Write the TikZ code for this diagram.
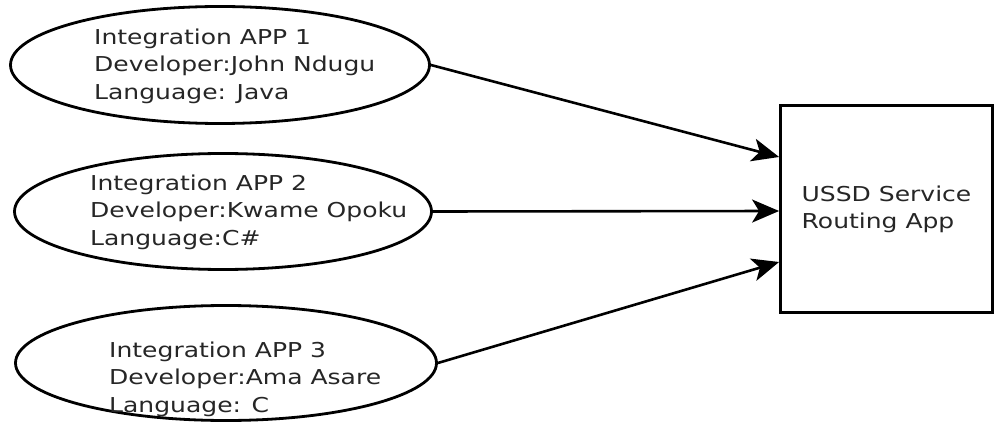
\documentclass[tikz,border=0pt]{standalone}
\usepackage{fontspec}
\setmainfont{DejaVu Sans}[FakeStretch=1.22]
\usetikzlibrary{shapes.geometric,arrows.meta,calc}
\definecolor{txt}{HTML}{262626}
\begin{document}
\begin{tikzpicture}[x=1pt,y=-1pt,
  appell/.style={draw=black,line width=2.8pt,ellipse,inner sep=0pt},
  apptext/.style={anchor=west,align=left,text=txt,inner sep=0pt,font=\fontsize{20.5}{27.5}\selectfont},
  routebox/.style={draw=black,line width=2.8pt,rectangle,inner sep=0pt,minimum width=212pt,minimum height=207pt,align=left,text=txt,font=\fontsize{20.5}{27}\selectfont},
  flow/.style={line width=2.6pt,-{Stealth[length=27pt,width=23pt,inset=7pt]}}]
\path[use as bounding box,fill=white] (0,0) rectangle (995,422);
\node[appell,minimum width=419pt,minimum height=117pt] (e1) at (220,65) {};
\node[appell,minimum width=417pt,minimum height=116pt] (e2) at (223,211.5) {};
\node[appell,minimum width=421pt,minimum height=115pt] (e3) at (226,363) {};
\node[apptext] (t1) at (94,66) {Integration APP 1\\Developer:John Ndugu\\Language: Java};
\node[apptext] (t2) at (90,212) {Integration APP 2\\Developer:Kwame Opoku\\Language:C\#};
\node[apptext] (t3) at (109,379) {Integration APP 3\\Developer:Ama Asare\\Language: C};
\node[routebox] (b) at (886.5,209) {USSD Service\\Routing App};
\coordinate (b1) at ($(b.west)+(0,-52)$);
\coordinate (b2) at ($(b.west)+(0,2)$);
\coordinate (b3) at ($(b.west)+(0,53)$);
\draw[flow] (e1.east) -- (b1);
\draw[flow] (e2.east) -- (b2);
\draw[flow] (e3.east) -- (b3);
\end{tikzpicture}
\end{document}
